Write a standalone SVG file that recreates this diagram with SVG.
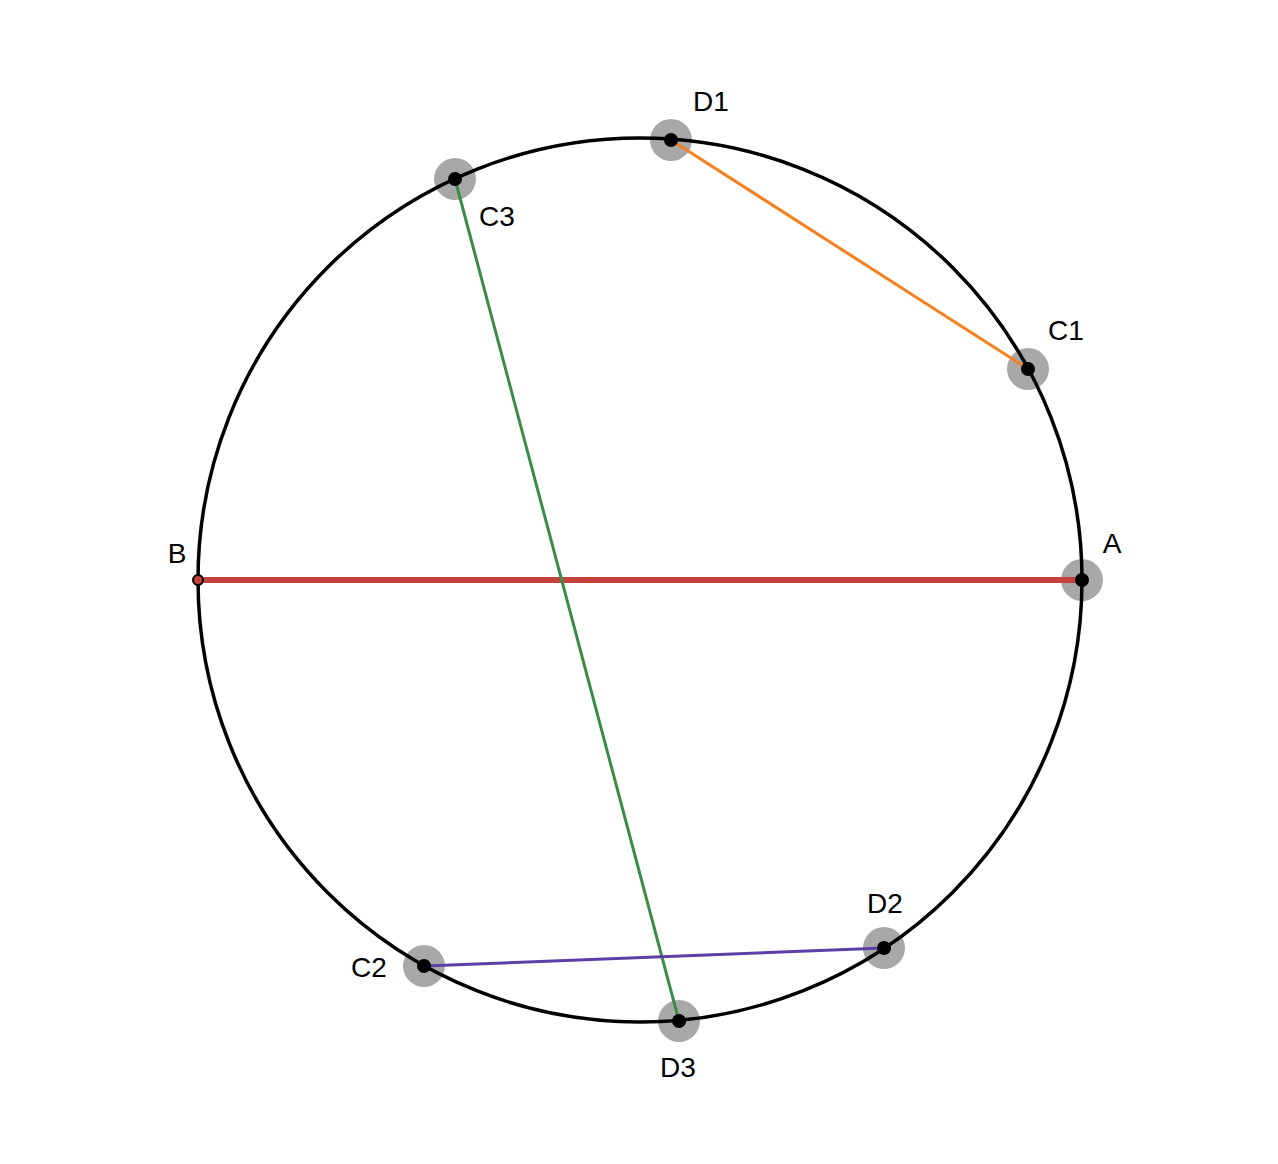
<svg xmlns="http://www.w3.org/2000/svg" width="1278" height="1164" viewBox="0 0 1278 1164">
<style>
.lbl{font-family:"Liberation Sans",Arial,sans-serif;font-size:28px;fill:#000;text-anchor:middle;dominant-baseline:central}
.halo{fill:#a8a8a8}
.dot{fill:#000}
</style>
<rect width="1278" height="1164" fill="#fff"/>
<g id="halos">
<circle class="halo" cx="1082" cy="580" r="21"/>
<circle class="halo" cx="671" cy="140" r="21"/>
<circle class="halo" cx="1028" cy="369" r="21"/>
<circle class="halo" cx="455" cy="179" r="21"/>
<circle class="halo" cx="424" cy="966" r="21"/>
<circle class="halo" cx="679" cy="1021" r="21"/>
<circle class="halo" cx="884" cy="948" r="21"/>
</g>
<circle id="circle" cx="640" cy="580" r="442" fill="none" stroke="#000" stroke-width="3.5"/>
<g id="connectors">
<line x1="198" y1="580" x2="1082" y2="580" stroke="#c4423c" stroke-width="6"/>
<line x1="671" y1="140" x2="1028" y2="369" stroke="#f5801f" stroke-width="3"/>
<line x1="455" y1="179" x2="679" y2="1021" stroke="#3b8a46" stroke-width="3"/>
<line x1="424" y1="966" x2="884" y2="948" stroke="#5c3ea6" stroke-width="3"/>
</g>
<g id="A"><circle class="dot" cx="1082" cy="580" r="7"/><text class="lbl" x="1112" y="543">A</text></g>
<g id="B"><circle cx="198" cy="580" r="5" fill="#c4423c" stroke="#000" stroke-width="2"/><text class="lbl" x="177" y="553">B</text></g>
<g id="D1"><circle class="dot" cx="671" cy="140" r="7"/><text class="lbl" x="711" y="101">D1</text></g>
<g id="C1"><circle class="dot" cx="1028" cy="369" r="7"/><text class="lbl" x="1066" y="330">C1</text></g>
<g id="C3"><circle class="dot" cx="455" cy="179" r="7"/><text class="lbl" x="497" y="216">C3</text></g>
<g id="C2"><circle class="dot" cx="424" cy="966" r="7"/><text class="lbl" x="369" y="967">C2</text></g>
<g id="D3"><circle class="dot" cx="679" cy="1021" r="7"/><text class="lbl" x="678" y="1067">D3</text></g>
<g id="D2"><circle class="dot" cx="884" cy="948" r="7"/><text class="lbl" x="885" y="903">D2</text></g>
</svg>
